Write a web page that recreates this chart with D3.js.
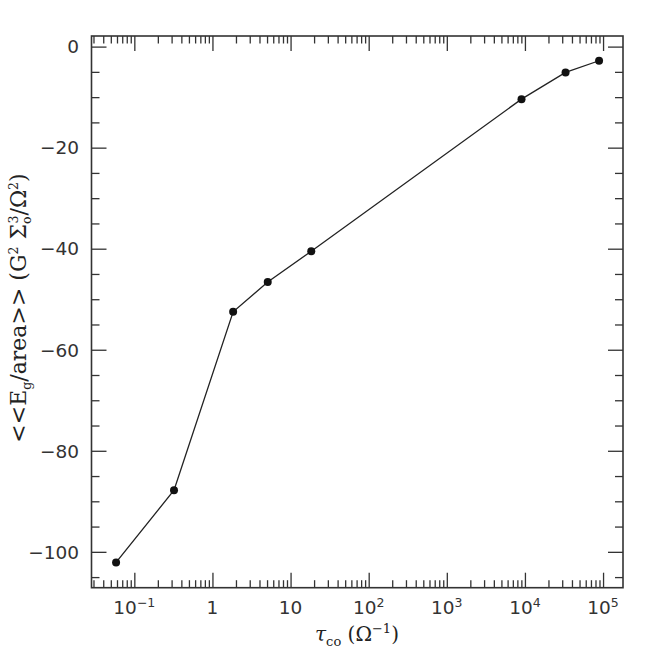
<!DOCTYPE html>
<html><head><meta charset="utf-8">
<script src="https://cdn.jsdelivr.net/npm/d3@7"></script>
<style>
body{margin:0;background:#fff;}
svg{display:block;}
</style></head>
<body>
<svg id="c" width="658" height="658"></svg>
<script>
// Data
const tauCo = [0.0584, 0.322, 1.84, 5.1, 18.4, 9040, 33100, 88900];
const energy = [-102.1, -87.8, -52.5, -46.6, -40.5, -10.4, -5.1, -2.8];
const xMajorTicks = [0.1, 1, 10, 100, 1000, 10000, 100000];
const xTickLabels = [["10","−1"],["1",""],["10",""],["10","2"],["10","3"],["10","4"],["10","5"]];
const yMajorTicks = [0, -20, -40, -60, -80, -100];
const yTickLabels = ["0","−20","−40","−60","−80","−100"];

const svg = d3.select("#c");
const L = 91.5, R = 623, T = 36, B = 587.7;
const x = d3.scaleLog().domain([0.0283, 1.8e5]).range([L, R]);
const y = d3.scaleLinear().domain([-107.1, 2.1]).range([B, T]);

const axisColor = "#333";
const xMinor = [];
for (let e = -2; e <= 5; e++) for (let k = 2; k <= 9; k++) {
  const v = k * Math.pow(10, e);
  if (v > x.domain()[0] && v < x.domain()[1]) xMinor.push(v);
}
const yMinor = d3.range(-105, 1, 5).filter(v => v % 20 !== 0);

function style(g){
  g.select(".domain").remove();
  g.selectAll("line").attr("stroke", axisColor).attr("stroke-width", 1.3);
}
// bottom
svg.append("g").attr("transform", `translate(0,${B})`)
  .call(d3.axisBottom(x).tickValues(xMajorTicks).tickSize(-15).tickFormat("")).call(style);
svg.append("g").attr("transform", `translate(0,${B})`)
  .call(d3.axisBottom(x).tickValues(xMinor).tickSize(-7.5).tickFormat("")).call(style);
// top
svg.append("g").attr("transform", `translate(0,${T})`)
  .call(d3.axisTop(x).tickValues(xMajorTicks).tickSize(-15).tickFormat("")).call(style);
svg.append("g").attr("transform", `translate(0,${T})`)
  .call(d3.axisTop(x).tickValues(xMinor).tickSize(-7.5).tickFormat("")).call(style);
// left
svg.append("g").attr("transform", `translate(${L},0)`)
  .call(d3.axisLeft(y).tickValues(yMajorTicks).tickSize(-15).tickFormat("")).call(style);
svg.append("g").attr("transform", `translate(${L},0)`)
  .call(d3.axisLeft(y).tickValues(yMinor).tickSize(-8).tickFormat("")).call(style);
// right
svg.append("g").attr("transform", `translate(${R},0)`)
  .call(d3.axisRight(y).tickValues(yMajorTicks).tickSize(-15).tickFormat("")).call(style);
svg.append("g").attr("transform", `translate(${R},0)`)
  .call(d3.axisRight(y).tickValues(yMinor).tickSize(-8).tickFormat("")).call(style);

// frame
svg.append("rect").attr("x", L).attr("y", T).attr("width", R - L).attr("height", B - T)
  .attr("fill", "none").attr("stroke", axisColor).attr("stroke-width", 1.6);

const font = "'DejaVu Sans', 'Liberation Sans', sans-serif";
// y tick labels
svg.append("g").selectAll("text").data(yMajorTicks).join("text")
  .attr("x", 79).attr("y", d => y(d) + 6.8)
  .attr("text-anchor", "end").attr("font-family", font).attr("font-size", 18.5)
  .attr("fill", "#333").text((d, i) => yTickLabels[i]);

// x tick labels
const xl = svg.append("g").selectAll("text").data(xMajorTicks).join("text")
  .attr("x", d => x(d)).attr("y", 614)
  .attr("text-anchor", "middle").attr("font-family", font).attr("font-size", 18.5)
  .attr("fill", "#333");
xl.each(function(d, i){
  const t = d3.select(this);
  t.append("tspan").text(xTickLabels[i][0]);
  if (xTickLabels[i][1]) t.append("tspan").attr("dy", -7).attr("font-size", 12.5).text(xTickLabels[i][1]);
});

// x axis title
const serif = "'DejaVu Serif', 'Liberation Serif', serif";
const xt = svg.append("text").attr("x", 357).attr("y", 641).attr("text-anchor", "middle")
  .attr("font-family", serif).attr("font-size", 20).attr("fill", "#222");
xt.append("tspan").attr("font-style", "italic").text("τ");
xt.append("tspan").attr("dy", 5).attr("font-size", 13).text("co");
xt.append("tspan").attr("dy", -5).text("  (Ω");
xt.append("tspan").attr("dy", -8).attr("font-size", 13).text("−1");
xt.append("tspan").attr("dy", 8).text(")");

// y axis title
const yt = svg.append("text").attr("transform", "translate(26,308) rotate(-90)")
  .attr("text-anchor", "middle").attr("font-family", serif).attr("font-size", 22).attr("fill", "#222");
yt.append("tspan").text("<<E");
yt.append("tspan").attr("dy", 5).attr("font-size", 12.5).text("g");
yt.append("tspan").attr("dy", -5).text("/area>>  (G");
yt.append("tspan").attr("dy", -8).attr("font-size", 12.5).text("2");
yt.append("tspan").attr("dy", 8).text(" Σ");
yt.append("tspan").attr("dy", 5).attr("font-size", 12.5).text("o");
yt.append("tspan").attr("dx", -7).attr("dy", -13).attr("font-size", 12.5).text("3");
yt.append("tspan").attr("dy", 8).text("/Ω");
yt.append("tspan").attr("dy", -8).attr("font-size", 12.5).text("2");
yt.append("tspan").attr("dy", 8).text(")");

// data line and points
const pts = tauCo.map((t, i) => [t, energy[i]]);
svg.append("path").datum(pts)
  .attr("d", d3.line().x(d => x(d[0])).y(d => y(d[1])))
  .attr("fill", "none").attr("stroke", "#222").attr("stroke-width", 1.3);
svg.append("g").selectAll("circle").data(pts).join("circle")
  .attr("cx", d => x(d[0])).attr("cy", d => y(d[1])).attr("r", 4).attr("fill", "#111");
</script>
</body></html>
